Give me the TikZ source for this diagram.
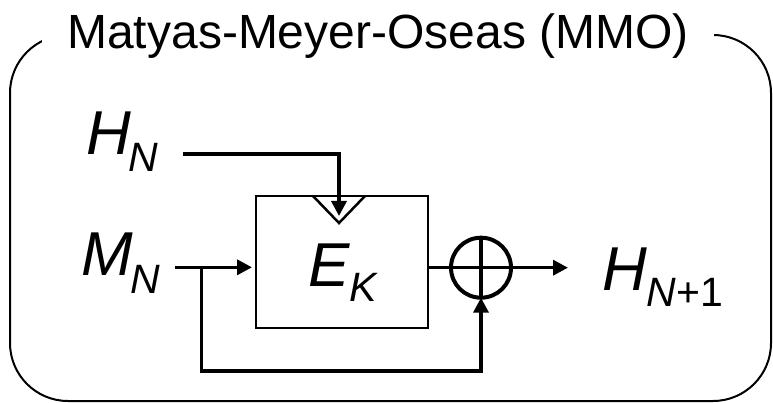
\documentclass[tikz,border=0pt]{standalone}
\usepackage{fontspec}
\setmainfont{Liberation Sans}
\usetikzlibrary{arrows.meta}
\newcommand\lowsub[2]{\raisebox{-#1pt}{\fontsize{41}{41}\selectfont #2}}
\begin{document}
\begin{tikzpicture}[x=1pt,y=-1pt,
  thinline/.style={line width=2pt},
  wire/.style={line width=3.5pt},
  arr/.style={wire,-{Triangle[length=15pt,width=15pt]}},
  lbl/.style={anchor=base west, inner sep=0pt, font=\fontsize{62}{62}\selectfont\itshape},
  ]
\useasboundingbox (0,0) rectangle (773,403);
\draw[thinline, rounded corners=58pt] (10,35) rectangle (771,401);
\node[fill=white, inner xsep=0pt, inner ysep=0pt, minimum width=672pt, text height=48pt, text depth=0pt, anchor=base, font=\fontsize{48}{50}\selectfont] (title) at (378,48.3) {Matyas-Meyer-Oseas (MMO)};

\node[lbl] (hn) at (86,155) {H\kern-2pt\lowsub{16.7}{N}};
\node[lbl] (mn) at (81,275.7) {M\kern-2pt\lowsub{17.3}{N}};
\node[lbl] (hn1) at (602,290) {H\lowsub{16}{N\upshape+1}};

\node[draw, thinline, minimum width=172pt, minimum height=132pt, inner sep=0pt, outer sep=0pt] (E) at (342,262) {};
\node[lbl] (ek) at (308,286) {E\lowsub{15.7}{K}};
\draw[line width=2.5pt] ([xshift=-29pt]E.north) -- ++(26,27) -- ++(26,-27);

\node[draw, circle, line width=4pt, minimum size=60pt, inner sep=0pt, outer sep=0pt] (xor) at (481,267.7) {};
\draw[wire] (xor.north) -- (xor.south);

\coordinate (hnout) at (183,154);
\coordinate (keyin) at (339,216);
\draw[arr] (hnout) -| (keyin);

\coordinate (mnout) at (175,267.3);
\draw[arr, shorten >=4pt] (mnout) -- (mnout -| E.west);

\coordinate (split) at (201.7,267.3);
\coordinate (fb) at (201.7,371);
\draw[arr] (split) -- (fb) -| (xor.south);

\coordinate (out) at (568,267.7);
\draw[arr] (E.east |- xor.center) -- (out);
\end{tikzpicture}
\end{document}
